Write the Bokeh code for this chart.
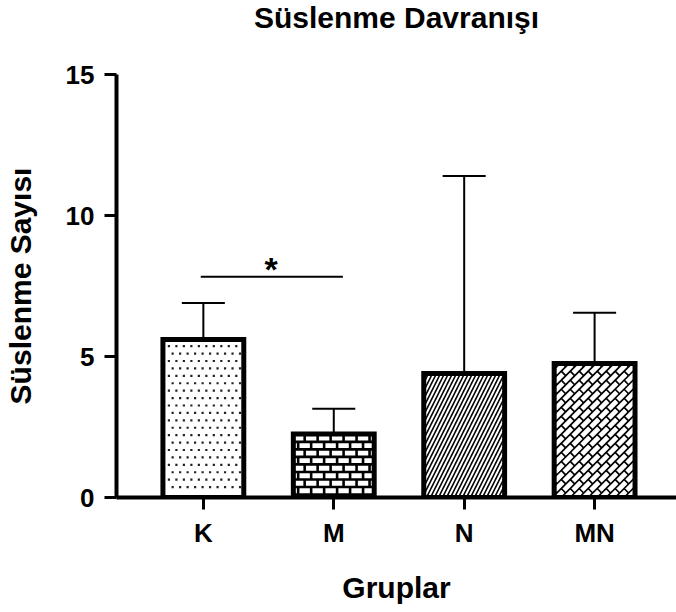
from bokeh.plotting import figure
from bokeh.models import FixedTicker, ColumnDataSource, Title
from bokeh.core.properties import value
from bokeh.embed import file_html
from bokeh.resources import INLINE

# ---- data ----
groups = ["K", "M", "N", "MN"]
means = [5.6, 2.25, 4.4, 4.75]
upper = [6.9, 3.15, 11.4, 6.55]
y_ticks = [0, 5, 10, 15]
sig_pair = ["K", "M"]
sig_y = 7.83
sig_text = "*"
title_text = "Süslenme Davranışı"
x_label = "Gruplar"
y_label = "Süslenme Sayısı"

# ---- styles ----
patterns = ["dots", "brick", "right_diagonal_line", "basket"]
FONT = "Liberation Sans"
X_START, X_END = 0.334, 4.628
Y_START, Y_END = 0, 15
FRAME_W, FRAME_H = 561, 422
BAR_W = 0.62
OUTLINE_W = 5

PXX = FRAME_W / (X_END - X_START)
PXY = FRAME_H / (Y_END - Y_START)


def to_data(X, Y):
    return X_START + X / PXX, Y_START + Y / PXY


def clip(xa, ya, xb, yb, r):
    rx0, ry0, rx1, ry1 = r
    dx, dy = xb - xa, yb - ya
    t0, t1 = 0.0, 1.0
    for pp, qq in ((-dx, xa - rx0), (dx, rx1 - xa), (-dy, ya - ry0), (dy, ry1 - ya)):
        if pp == 0:
            if qq < 0:
                return None
        else:
            t = qq / pp
            if pp < 0:
                if t > t1:
                    return None
                t0 = max(t0, t)
            else:
                if t < t0:
                    return None
                t1 = min(t1, t)
    if t1 - t0 < 1e-9:
        return None
    return (xa + t0 * dx, ya + t0 * dy, xa + t1 * dx, ya + t1 * dy)


def bar_rect_px(xc, top):
    X0 = (xc - BAR_W / 2 - X_START) * PXX
    X1 = (xc + BAR_W / 2 - X_START) * PXX
    return (X0, 0.0, X1, (top - Y_START) * PXY)


def dots_pattern(r, dx=7.5, dy=7.4, inset=3.6):
    X0, Y0, X1, Y1 = r
    xs_, ys_ = [], []
    row = 0
    Y = 3.0
    while Y < Y1 + 1:
        X = (row % 2) * dx / 2
        while X < X1 + 1:
            if X0 + inset <= X <= X1 - inset and Y0 + inset <= Y <= Y1 - inset:
                dxp, dyp = to_data(X, Y)
                xs_.append(dxp); ys_.append(dyp)
            X += dx
        Y += dy
        row += 1
    return xs_, ys_


def brick_pattern(r, h=7.5, b=13.0):
    X0, Y0, X1, Y1 = r
    segs = []
    k = 0
    while k * h < Y1 + h:
        Yk = k * h + 3.0
        segs.append((X0, Yk, X1, Yk))
        off = (k % 2) * b / 2
        j = -1
        while j * b + off < X1 + b:
            X = j * b + off
            segs.append((X, Yk, X, Yk + h))
            j += 1
        k += 1
    out = []
    for s in segs:
        c = clip(*s, r)
        if c:
            out.append(c)
    return out


def basket_pattern(r, a=9.0):
    X0, Y0, X1, Y1 = r
    segs = []
    kmin = int((X0 - Y1) // a) - 2
    kmax = int((X1 - Y0) // a) + 2
    for k in range(kmin, kmax + 1):
        c1 = a / 2 + k * a
        c2 = c1 + a
        segs.append((c1 + Y0 - 5, Y0 - 5, c1 + Y1 + 5, Y1 + 5))
        jmin = int(((X0 + Y0) - k * a) // (2 * a)) - 2
        jmax = int(((X1 + Y1) - k * a) // (2 * a)) + 2
        for j in range(jmin, jmax + 1):
            d = (2 * j + k) * a + a / 2
            segs.append(((c1 + d) / 2, (d - c1) / 2, (c2 + d) / 2, (d - c2) / 2))
    out = []
    for s in segs:
        c = clip(*s, r)
        if c:
            out.append(c)
    return out


xs = [i + 1 for i in range(len(groups))]
src = ColumnDataSource(dict(x=xs, top=means, up=upper))

p = figure(width=676, height=612, output_backend="svg", toolbar_location=None,
           x_range=(X_START, X_END), y_range=(Y_START, Y_END),
           min_border_left=115, min_border_right=0, min_border_bottom=115,
           min_border_top=0)
p.outline_line_color = None
p.xgrid.visible = False
p.ygrid.visible = False
p.background_fill_color = "white"
p.border_fill_color = "white"

# title (outermost) with a blank spacer between it and the frame
p.title.text = title_text
p.title.align = "center"
p.title.vertical_align = "top"
p.title.text_font = FONT
p.title.text_font_style = "bold"
p.title.text_font_size = "30px"
p.title.text_color = "black"
p.title.standoff = 0
spacer = Title(text=".", text_color="white", text_font_size="10px", standoff=29)
p.add_layout(spacer, "above")

# error bars (upper only)
p.segment(x0="x", y0="top", x1="x", y1="up", source=src, line_color="black", line_width=2)
cap_half = 0.165
p.segment(x0=[x - cap_half for x in xs], y0=upper, x1=[x + cap_half for x in xs], y1=upper,
          line_color="black", line_width=2)

# bar fills (built-in hatch where available)
builtin = ["right_diagonal_line"]
src.data["hp"] = [pt if pt in builtin else " " for pt in patterns]
p.vbar(x="x", top="top", bottom=0, width=BAR_W, source=src,
       fill_color="white", line_color=None,
       hatch_pattern="hp", hatch_color="black", hatch_scale=8, hatch_weight=1.6)

# custom patterns derived from each bar's extent
dot_x, dot_y = [], []
seg_sets = {"brick": ([], [], [], []), "basket": ([], [], [], [])}
for xc, top, pt in zip(xs, means, patterns):
    r = bar_rect_px(xc, top)
    if pt == "dots":
        a_, b_ = dots_pattern(r)
        dot_x += a_; dot_y += b_
    elif pt in ("brick", "basket"):
        segs = brick_pattern(r) if pt == "brick" else basket_pattern(r)
        lst = seg_sets[pt]
        for (Xa, Ya, Xb, Yb) in segs:
            xa, ya = to_data(Xa, Ya)
            xb, yb = to_data(Xb, Yb)
            lst[0].append(xa); lst[1].append(ya); lst[2].append(xb); lst[3].append(yb)

p.scatter(dot_x, dot_y, marker="square", size=2.2, fill_color="#222", line_color=None)
b = seg_sets["brick"]
p.segment(x0=b[0], y0=b[1], x1=b[2], y1=b[3], line_color="black", line_width=2.6)
m = seg_sets["basket"]
p.segment(x0=m[0], y0=m[1], x1=m[2], y1=m[3], line_color="black", line_width=1.7)

# bar outlines
p.vbar(x="x", top="top", bottom=0, width=BAR_W, source=src,
       fill_color=None, line_color="black", line_width=OUTLINE_W, line_join="miter")

# significance
i0 = groups.index(sig_pair[0]); i1 = groups.index(sig_pair[1])
p.segment(x0=[xs[i0] - 0.02], y0=[sig_y], x1=[xs[i1] + 0.07], y1=[sig_y],
          line_color="black", line_width=2)
p.text(x=[(xs[i0] + xs[i1]) / 2 + 0.02], y=[sig_y], text=[sig_text],
       text_font=value(FONT), text_font_style="bold", text_font_size="34px",
       text_align="center", text_baseline="alphabetic", y_offset=-8, text_color="black")

# axes
for ax in (p.xaxis[0], p.yaxis[0]):
    ax.axis_line_width = 4
    ax.axis_line_color = "black"
    ax.major_tick_line_width = 3
    ax.major_tick_line_color = "black"
    ax.major_tick_out = 12
    ax.major_tick_in = 0
    ax.minor_tick_line_color = None
    ax.major_label_text_font = FONT
    ax.major_label_text_font_style = "bold"
    ax.major_label_text_font_size = "26px"
    ax.major_label_text_color = "black"
    ax.axis_label_text_font = FONT
    ax.axis_label_text_font_style = "bold"
    ax.axis_label_text_font_size = "30px"
    ax.axis_label_text_color = "black"

p.yaxis.ticker = FixedTicker(ticks=y_ticks)
p.yaxis.major_label_standoff = 10
p.yaxis.axis_label = y_label
p.yaxis.axis_label_standoff = 26

p.xaxis.ticker = FixedTicker(ticks=xs)
p.xaxis.major_label_overrides = {x: g for x, g in zip(xs, groups)}
p.xaxis.major_label_standoff = 8
p.xaxis.axis_label = x_label
p.xaxis.axis_label_standoff = 20

open("out.html", "w").write(file_html(p, INLINE))
